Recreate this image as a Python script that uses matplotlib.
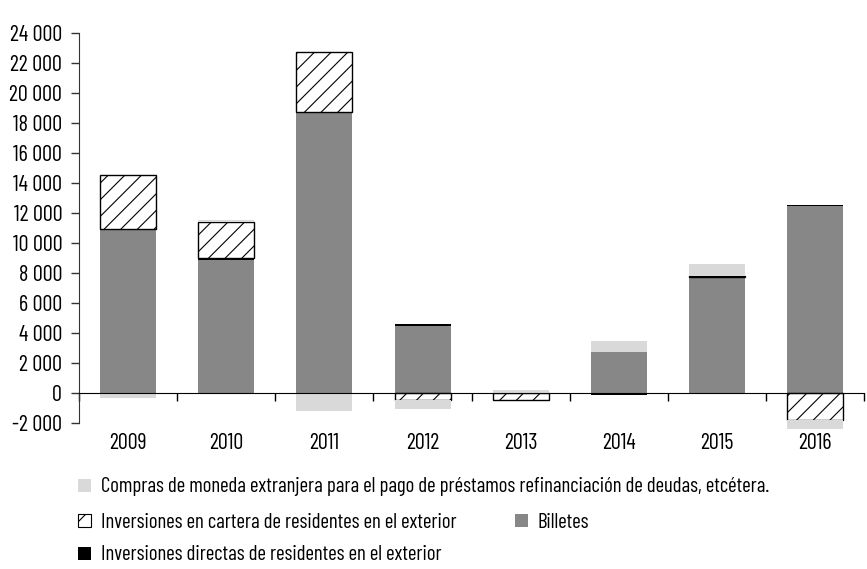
import numpy as np
import matplotlib
matplotlib.use('Agg')
import matplotlib.pyplot as plt
from matplotlib.ticker import FuncFormatter, FixedLocator
from matplotlib.patches import Patch

plt.rcParams['font.family'] = ['Barlow Condensed', 'DejaVu Sans']
plt.rcParams['hatch.linewidth'] = 0.8

# values (millions)
years = ['2009', '2010', '2011', '2012', '2013', '2014', '2015', '2016']
billetes = [10900, 8900, 18700, 4500, 0, 2750, 7650, 12450]
directas = [40, 80, 30, 80, 0, -130, 60, 60]
cartera = [3580, 2450, 4000, -450, -480, 0, 100, -1780]
compras = [-330, 130, -1160, -620, 200, 720, 780, -620]

lbl_compras = 'Compras de moneda extranjera para el pago de préstamos refinanciación de deudas, etcétera.'
lbl_cartera = 'Inversiones en cartera de residentes en el exterior'
lbl_billetes = 'Billetes'
lbl_directas = 'Inversiones directas de residentes en el exterior'

c_dark = '#878787'
c_light = '#d9d9d9'
fsize = 16

fig = plt.figure(figsize=(8.67, 5.69), dpi=100)
ax = fig.add_axes([0.091, 0.243, 0.906, 0.699])

x = np.arange(len(years))
width = 0.57

styles = [
    (billetes, dict(color=c_dark, linewidth=0)),
    (directas, dict(color='black', linewidth=0)),
    (cartera, dict(facecolor='white', edgecolor='black', hatch='//', linewidth=1.0)),
    (compras, dict(color=c_light, linewidth=0)),
]

pos_base = np.zeros(len(years))
neg_base = np.zeros(len(years))
for vals, style in styles:
    vals = np.array(vals, dtype=float)
    bottom = np.where(vals >= 0, pos_base, neg_base)
    keep = vals != 0
    ax.bar(x[keep], vals[keep], width, bottom=bottom[keep], clip_on=False,
           zorder=2, **style)
    pos_base += np.clip(vals, 0, None)
    neg_base += np.clip(vals, None, 0)

ax.set_xlim(-0.5, 7.5)
ax.set_ylim(-2500, 24000)

# axes look
for s in ['top', 'right']:
    ax.spines[s].set_visible(False)
ax.spines['left'].set_bounds(-2000, 24000)
ax.spines['left'].set_color('#333333')
ax.spines['bottom'].set_position(('data', 0))
ax.spines['bottom'].set_zorder(3)

ax.yaxis.set_major_locator(FixedLocator(np.arange(-2000, 24001, 2000)))
ax.yaxis.set_major_formatter(FuncFormatter(lambda v, p: f'{int(v):,}'.replace(',', ' ')))
ax.tick_params(axis='y', length=6, width=1, color='#333333', pad=6, labelsize=fsize)

ax.set_xticks(x)
ax.set_xticklabels(years)
ax.set_xticks(np.arange(-0.5, 8, 1), minor=True)
ax.tick_params(axis='x', which='major', length=0, pad=29, labelsize=fsize)
ax.tick_params(axis='x', which='minor', length=6, width=1, direction='out')

# legend rows
leg_kw = dict(frameon=False, loc='center left', fontsize=15, handlelength=0.6,
              handleheight=0.6, handletextpad=0.5, borderpad=0, borderaxespad=0)
rows = [
    (Patch(facecolor=c_light), lbl_compras, (78 / 867, 1 - 487 / 569)),
    (Patch(facecolor='white', edgecolor='black', hatch='/', linewidth=0.8), lbl_cartera,
     (78 / 867, 1 - 522 / 569)),
    (Patch(facecolor=c_dark), lbl_billetes, (515 / 867, 1 - 522 / 569)),
    (Patch(facecolor='black'), lbl_directas, (78 / 867, 1 - 555 / 569)),
]
for handle, label, anchor in rows:
    fig.legend([handle], [label], bbox_to_anchor=anchor, **leg_kw)

fig.savefig('out.png', dpi=100)
